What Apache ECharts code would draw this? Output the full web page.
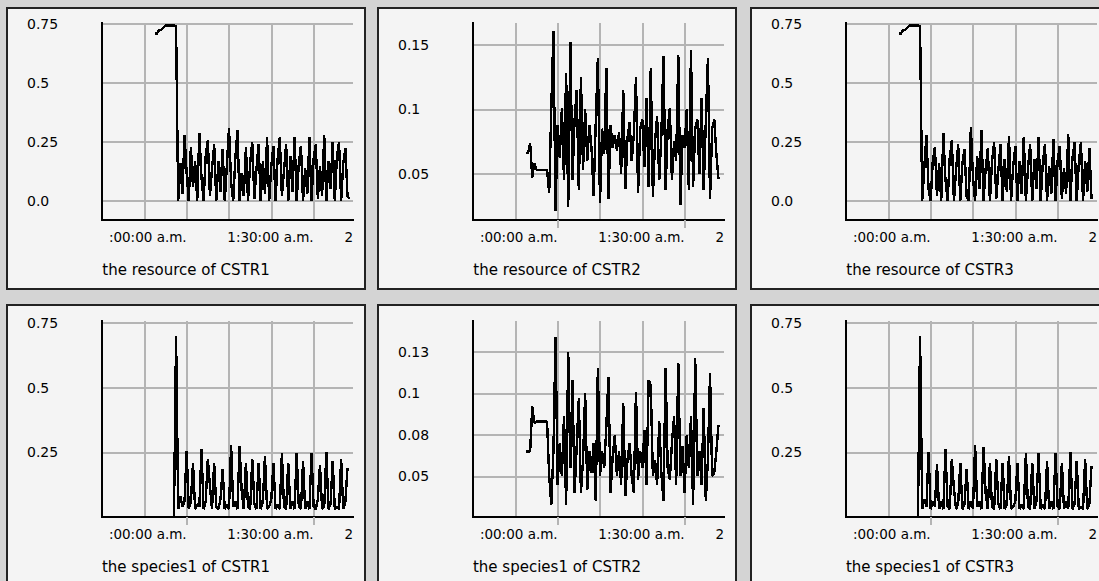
<!DOCTYPE html>
<html>
<head>
<meta charset="utf-8">
<title>CSTR charts</title>
<script src="https://cdn.jsdelivr.net/npm/echarts@6/dist/echarts.min.js"></script>
<style>
  html, body { margin: 0; padding: 0; width: 1099px; height: 581px; overflow: hidden; background: #d4d4d4; }
  .panel { position: absolute; width: 356px; height: 279px; border: 2px solid #222; background: #f4f4f4; }
  .panel svg path { shape-rendering: crispEdges; }
</style>
</head>
<body>
<div id="p1" class="panel" style="left:6px;top:7px"></div>
<div id="p2" class="panel" style="left:377px;top:7px"></div>
<div id="p3" class="panel" style="left:750px;top:7px"></div>
<div id="p4" class="panel" style="left:6px;top:304px"></div>
<div id="p5" class="panel" style="left:377px;top:304px"></div>
<div id="p6" class="panel" style="left:750px;top:304px"></div>
<script>
// samples every half minute, starting 12.5 min after the left edge of the plot
var startTime = 12.5;
var sampleStep = 0.5;

var resourceCSTR1 = [0.71, 0.71, 0.725, 0.725, 0.735, 0.745, 0.745, 0.745, 0.745, 0.745, 0.74,
  0.0, 0.16, 0.03, 0.28, 0.12, 0.0, 0.23, 0.06, 0.17, 0.0,
  0.29, 0.10, 0.0, 0.19, 0.26, 0.02, 0.14, 0.24, 0.0, 0.17,
  0.04, 0.22, 0.0, 0.15, 0.31, 0.08, 0.0, 0.18, 0.30, 0.0,
  0.12, 0.02, 0.23, 0.0, 0.16, 0.25, 0.01, 0.14, 0.24, 0.0,
  0.17, 0.03, 0.27, 0.0, 0.15, 0.235, 0.0, 0.18, 0.27, 0.02,
  0.13, 0.24, 0.0, 0.19, 0.04, 0.27, 0.0, 0.16, 0.235, 0.0,
  0.14, 0.03, 0.27, 0.0, 0.18, 0.24, 0.01, 0.15, 0.02, 0.28,
  0.0, 0.17, 0.05, 0.25, 0.0, 0.19, 0.25, 0.0, 0.16, 0.225,
  0.02, 0.01];

var resourceCSTR2 = [0.066, 0.066, 0.074, 0.047, 0.058, 0.053, 0.053, 0.053, 0.053, 0.053, 0.053,
  0.035, 0.101, 0.161, 0.021, 0.088, 0.062, 0.101, 0.045, 0.128, 0.024,
  0.152, 0.045, 0.092, 0.115, 0.037, 0.125, 0.053, 0.10, 0.06, 0.088,
  0.07, 0.033, 0.09, 0.140, 0.027, 0.085, 0.065, 0.132, 0.030, 0.088,
  0.07, 0.08, 0.068, 0.082, 0.05, 0.115, 0.038, 0.078, 0.09, 0.06,
  0.08, 0.125, 0.035, 0.085, 0.092, 0.055, 0.109, 0.04, 0.132, 0.032,
  0.075, 0.095, 0.045, 0.08, 0.141, 0.037, 0.085, 0.101, 0.045, 0.075,
  0.06, 0.142, 0.026, 0.08, 0.07, 0.10, 0.037, 0.146, 0.04, 0.085,
  0.092, 0.05, 0.109, 0.037, 0.09, 0.140, 0.030, 0.085, 0.092, 0.065,
  0.046];

var resourceCSTR3 = [0.71, 0.71, 0.725, 0.725, 0.735, 0.745, 0.745, 0.745, 0.745, 0.745, 0.74,
  0.0, 0.14, 0.28, 0.05, 0.0, 0.17, 0.23, 0.02, 0.16, 0.0,
  0.287, 0.09, 0.0, 0.18, 0.26, 0.0, 0.13, 0.24, 0.0, 0.16,
  0.22, 0.02, 0.0, 0.312, 0.1, 0.0, 0.19, 0.05, 0.30, 0.0,
  0.14, 0.223, 0.0, 0.17, 0.25, 0.01, 0.13, 0.24, 0.0, 0.18,
  0.04, 0.275, 0.0, 0.15, 0.233, 0.0, 0.17, 0.03, 0.272, 0.0,
  0.14, 0.24, 0.0, 0.18, 0.05, 0.272, 0.0, 0.16, 0.24, 0.0,
  0.15, 0.03, 0.265, 0.0, 0.17, 0.233, 0.01, 0.14, 0.03, 0.284,
  0.0, 0.18, 0.25, 0.0, 0.16, 0.25, 0.0, 0.17, 0.04, 0.223,
  0.01];

var species1CSTR1 = [0, 0, 0, 0, 0, 0, 0, 0, 0, 0, 0.70,
  0.03, 0.08, 0.04, 0.06, 0.255, 0.03, 0.06, 0.21, 0.03, 0.05,
  0.04, 0.264, 0.03, 0.06, 0.225, 0.12, 0.03, 0.21, 0.04, 0.03,
  0.07, 0.187, 0.03, 0.05, 0.03, 0.28, 0.04, 0.06, 0.03, 0.274,
  0.10, 0.03, 0.21, 0.04, 0.03, 0.225, 0.05, 0.03, 0.21, 0.03,
  0.06, 0.236, 0.03, 0.04, 0.07, 0.21, 0.03, 0.05, 0.03, 0.246,
  0.04, 0.03, 0.21, 0.03, 0.06, 0.03, 0.246, 0.04, 0.03, 0.217,
  0.03, 0.06, 0.03, 0.246, 0.04, 0.03, 0.07, 0.20, 0.03, 0.04,
  0.251, 0.03, 0.05, 0.217, 0.03, 0.04, 0.03, 0.225, 0.03, 0.06,
  0.19];

var species1CSTR2 = [0.065, 0.065, 0.065, 0.092, 0.082, 0.083, 0.083, 0.083, 0.083, 0.083, 0.083,
  0.05, 0.033, 0.065, 0.134, 0.045, 0.07, 0.05, 0.086, 0.033, 0.125,
  0.055, 0.108, 0.04, 0.068, 0.097, 0.04, 0.06, 0.10, 0.042, 0.065,
  0.052, 0.07, 0.035, 0.115, 0.05, 0.065, 0.055, 0.08, 0.11, 0.04,
  0.062, 0.075, 0.05, 0.065, 0.045, 0.094, 0.038, 0.06, 0.07, 0.05,
  0.04, 0.101, 0.048, 0.065, 0.055, 0.078, 0.045, 0.108, 0.105, 0.05,
  0.06, 0.045, 0.083, 0.052, 0.035, 0.115, 0.055, 0.048, 0.07, 0.086,
  0.045, 0.118, 0.05, 0.068, 0.04, 0.075, 0.055, 0.086, 0.033, 0.121,
  0.05, 0.065, 0.045, 0.091, 0.035, 0.06, 0.112, 0.05, 0.052, 0.065,
  0.081];

var species1CSTR3 = [0, 0, 0, 0, 0, 0, 0, 0, 0, 0, 0.70,
  0.03, 0.07, 0.04, 0.251, 0.03, 0.06, 0.04, 0.204, 0.03, 0.06,
  0.03, 0.262, 0.04, 0.03, 0.225, 0.11, 0.03, 0.05, 0.21, 0.03,
  0.05, 0.185, 0.03, 0.06, 0.03, 0.28, 0.04, 0.06, 0.03, 0.272,
  0.09, 0.03, 0.21, 0.04, 0.03, 0.225, 0.05, 0.03, 0.21, 0.03,
  0.05, 0.236, 0.03, 0.04, 0.06, 0.21, 0.03, 0.05, 0.03, 0.246,
  0.04, 0.03, 0.21, 0.03, 0.06, 0.246, 0.03, 0.05, 0.03, 0.217,
  0.03, 0.06, 0.03, 0.246, 0.04, 0.03, 0.21, 0.03, 0.06, 0.03,
  0.251, 0.03, 0.05, 0.217, 0.03, 0.04, 0.03, 0.225, 0.03, 0.05,
  0.197];

// time axis (minutes) and its labels
var timeMax = 59.3;
var gridTimes = [10, 20, 30, 40, 50];
var tickTimes = [20, 50];
var xLabelTimes = [20, 50, 59.3];
var xLabels = [':00:00 a.m.', '1:30:00 a.m.', '2'];

// value axes
var resourceTicks = [0, 0.25, 0.5, 0.75];
var resourceLabels = ['0.0', '0.25', '0.5', '0.75'];
var resource2Ticks = [0.05, 0.1, 0.15];
var resource2Labels = ['0.05', '0.1', '0.15'];
var speciesTicks = [0.25, 0.5, 0.75];
var speciesLabels = ['0.25', '0.5', '0.75'];
var species2Ticks = [0.05, 0.075, 0.1, 0.125];
var species2Labels = ['0.05', '0.08', '0.1', '0.13'];

document.addEventListener('DOMContentLoaded', function () {
  var font = 'DejaVu Sans';
  var gridColor = '#b4b4b4';

  function createChart(containerId, option) {
    var chart = echarts.init(document.getElementById(containerId), null, { renderer: 'svg' });
    chart.setOption(option);
  }

  function toPoints(values) {
    return values.map(function (v, i) { return [startTime + i * sampleStep, v]; });
  }

  function panelOption(title, values, yMin, yMax, yTicks, yLabels, row) {
    return {
      animation: false,
      title: {
        text: title, left: 'center', top: 253, padding: 0,
        textStyle: { fontFamily: font, fontSize: 15, fontWeight: 'normal', color: '#000' }
      },
      grid: { left: 94, top: row === 0 ? 14 : 15, width: 251, height: row === 0 ? 197 : 196 },
      xAxis: [{
        type: 'value', min: 0, max: timeMax,
        axisLine: { show: true, onZero: false, lineStyle: { color: '#000', width: 2 } },
        axisTick: { show: false, customValues: gridTimes },
        splitLine: { show: true, lineStyle: { color: gridColor, width: 2 } },
        axisLabel: {
          customValues: xLabelTimes, align: 'right', margin: 10,
          fontFamily: font, fontSize: 13.5, color: '#000',
          formatter: function (v) { return xLabels[xLabelTimes.indexOf(v)]; }
        }
      }, {
        type: 'value', min: 0, max: timeMax, position: 'bottom',
        axisLine: { show: false },
        axisLabel: { show: false },
        splitLine: { show: false },
        axisTick: { show: true, customValues: tickTimes, length: 8, lineStyle: { color: gridColor, width: 2 } }
      }],
      yAxis: {
        type: 'value', min: yMin, max: yMax,
        axisLine: { show: true, onZero: false, lineStyle: { color: '#000', width: 2 } },
        axisTick: { show: false, customValues: yTicks },
        splitLine: { show: true, lineStyle: { color: gridColor, width: 2 } },
        axisLabel: {
          customValues: yTicks, align: 'left', margin: 75,
          fontFamily: font, fontSize: 14, color: '#000',
          formatter: function (v) { return yLabels[yTicks.indexOf(v)]; }
        }
      },
      series: [{
        type: 'line', xAxisIndex: 0, data: toPoints(values),
        symbol: 'none', lineStyle: { color: '#000', width: 2.4 }
      }]
    };
  }

  createChart('p1', panelOption('the resource of CSTR1', resourceCSTR1, -0.08, 0.755, resourceTicks, resourceLabels, 0));
  createChart('p2', panelOption('the resource of CSTR2', resourceCSTR2, 0.014, 0.167, resource2Ticks, resource2Labels, 0));
  createChart('p3', panelOption('the resource of CSTR3', resourceCSTR3, -0.08, 0.755, resourceTicks, resourceLabels, 0));
  createChart('p4', panelOption('the species1 of CSTR1', species1CSTR1, 0, 0.758, speciesTicks, speciesLabels, 1));
  createChart('p5', panelOption('the species1 of CSTR2', species1CSTR2, 0.0255, 0.1435, species2Ticks, species2Labels, 1));
  createChart('p6', panelOption('the species1 of CSTR3', species1CSTR3, 0, 0.758, speciesTicks, speciesLabels, 1));
});
</script>
</body>
</html>
